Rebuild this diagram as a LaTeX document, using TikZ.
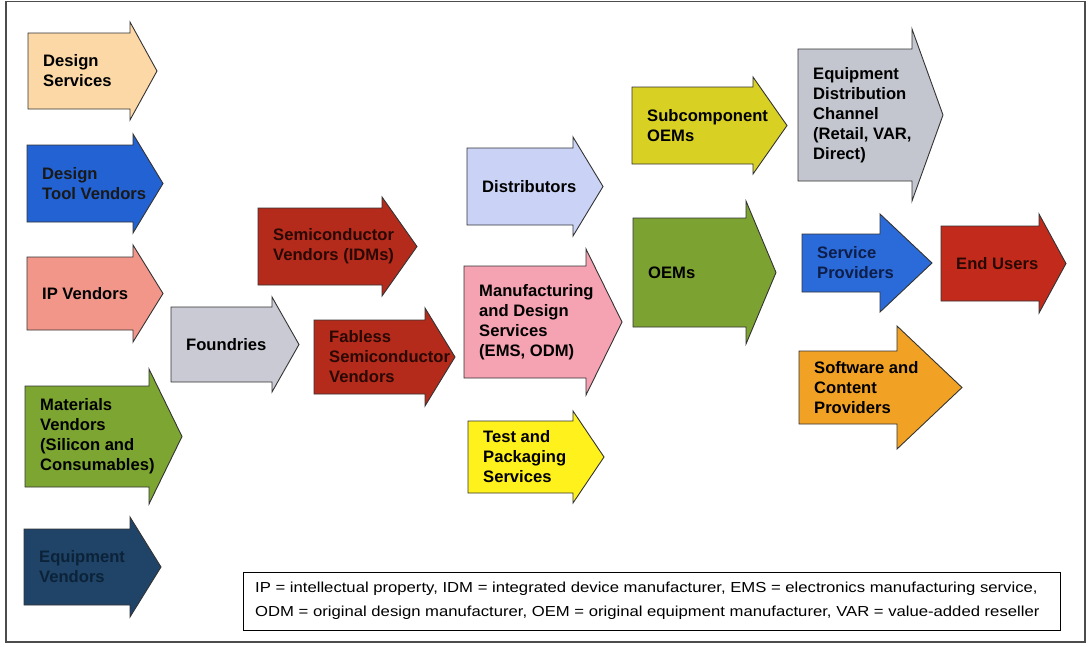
\documentclass[tikz,border=0pt]{standalone}
\usepackage{fontspec}
\setmainfont{Liberation Sans}
\newfontfamily\legendfont[FakeStretch=1.15]{Liberation Sans}

% fill colours and matching text colours of the arrows
\definecolor{ds}{HTML}{FBD8A6}   \colorlet{dstxt}{black}
\definecolor{dtv}{HTML}{2262D2}  \colorlet{dtvtxt}{black!90}
\definecolor{ipv}{HTML}{F2968A}  \colorlet{ipvtxt}{black}
\definecolor{mat}{HTML}{7DA532}  \colorlet{mattxt}{black}
\definecolor{eqv}{HTML}{1F4468}  \definecolor{eqvtxt}{HTML}{0C2238}
\definecolor{fnd}{HTML}{C9CAD3}  \colorlet{fndtxt}{black}
\definecolor{idm}{HTML}{B42B1C}  \definecolor{idmtxt}{HTML}{2A0804}
\definecolor{dist}{HTML}{CAD3F6} \colorlet{disttxt}{black}
\definecolor{mfg}{HTML}{F5A2B2}  \colorlet{mfgtxt}{black}
\definecolor{tp}{HTML}{FFF21C}   \colorlet{tptxt}{black}
\definecolor{sub}{HTML}{D9D024}  \colorlet{subtxt}{black}
\definecolor{oem}{HTML}{7CA231}  \colorlet{oemtxt}{black}
\definecolor{edc}{HTML}{C3C6CE}  \colorlet{edctxt}{black}
\definecolor{svc}{HTML}{2B6BD9}  \definecolor{svctxt}{HTML}{0E1E4A}
\definecolor{end}{HTML}{C22B1C}  \definecolor{endtxt}{HTML}{2A0804}
\definecolor{sw}{HTML}{F1A224}   \colorlet{swtxt}{black}

% #1 name, #2 colour, #3 body left, #4 body top, #5 body bottom,
% #6 head base x, #7 head overhang, #8 tip x, #9 label
\newcommand\chainarrow[9]{%
  \pgfmathsetmacro\ymid{(#4+#5)/2}%
  \draw[outline, fill=#2] (#3,#4) -- (#6,#4) -- (#6,#4-#7) -- (#8,\ymid)
    -- (#6,#5+#7) -- (#6,#5) -- (#3,#5) -- cycle;
  \node[arrowlabel, text=#2txt] (#1) at (#3+15,\ymid) {#9};
}

\begin{document}
\begin{tikzpicture}[x=1pt, y=-1pt,
  outline/.style={draw=black!80, line width=0.9pt},
  arrowlabel/.style={anchor=west, align=left, inner sep=0pt,
    font=\fontsize{16.6}{20}\selectfont\bfseries},
  frame/.style={draw=black!70, line width=1.6pt},
  legendbox/.style={draw=black, line width=0.9pt, fill=white},
  legendtext/.style={anchor=west, align=left, inner sep=0pt,
    font=\legendfont\fontsize{14.5}{24}\selectfont}]

\useasboundingbox (0,0) rectangle (1088,646);
\draw[frame] (6,1.5) rectangle (1085,642);

% suppliers to the chip makers
\chainarrow{ds}{ds}{28}{33}{109}{130}{11}{157}{Design\\Services}
\chainarrow{dtv}{dtv}{27}{145}{222}{133}{11}{163}{Design\\Tool Vendors}
\chainarrow{ipv}{ipv}{27}{257}{330}{133}{12}{163}{IP Vendors}
\chainarrow{mat}{mat}{25}{386}{487}{149}{17}{182}{Materials\\Vendors\\(Silicon and\\Consumables)}
\chainarrow{eqv}{eqv}{24}{529}{605}{130}{12}{161}{Equipment\\Vendors}

% chip makers
\chainarrow{fnd}{fnd}{171}{307}{382}{272}{10}{299}{Foundries}
\chainarrow{idm}{idm}{258}{208}{285}{382}{11}{417}{Semiconductor\\Vendors (IDMs)}
\chainarrow{fab}{idm}{314}{320}{394}{425}{12}{455}{Fabless\\Semiconductor\\Vendors}

% distribution and contract services
\chainarrow{dist}{dist}{467}{148}{225}{573}{11}{603}{Distributors}
\chainarrow{mfg}{mfg}{464}{266}{378}{586}{17}{622}{Manufacturing\\and Design\\Services\\(EMS, ODM)}
\chainarrow{tp}{tp}{468}{421}{493}{573}{10}{604}{Test and\\Packaging\\Services}

% equipment makers
\chainarrow{sub}{sub}{632}{87}{164}{753}{10}{787}{Subcomponent\\OEMs}
\chainarrow{oem}{oem}{633}{218}{327}{746}{17}{776}{OEMs}

% channels to the end user
\chainarrow{edc}{edc}{798}{49}{181}{912}{20}{943}{Equipment\\Distribution\\Channel\\(Retail, VAR,\\Direct)}
\chainarrow{svc}{svc}{802}{234}{292}{880}{20}{932}{Service\\Providers}
\chainarrow{end}{end}{941}{226}{301}{1039}{12}{1066}{End Users}
\chainarrow{sw}{sw}{799}{351}{424}{897}{25}{962}{Software and\\Content\\Providers}

% abbreviations
\draw[legendbox] (243,572) rectangle (1060,630);
\node[legendtext] (legend) at (255,601) {IP = intellectual property, IDM = integrated device manufacturer, EMS = electronics manufacturing service,\\ODM = original design manufacturer, OEM = original equipment manufacturer, VAR = value-added reseller};
\end{tikzpicture}
\end{document}
